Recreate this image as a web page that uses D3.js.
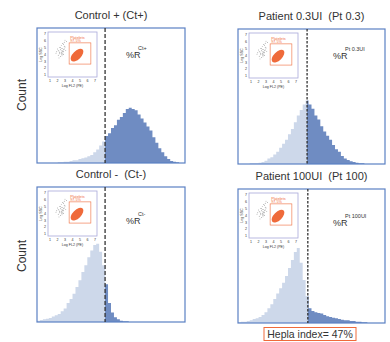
<!DOCTYPE html>
<html>
<head>
<meta charset="utf-8">
<script src="https://cdn.jsdelivr.net/npm/d3@7"></script>
<style>
  body { margin: 0; background: #fff; }
  text { font-family: "Liberation Sans", Arial, sans-serif; fill: #333; white-space: pre; }
</style>
</head>
<body>
<svg id="chart" width="390" height="342"></svg>
<script>
// histogram counts (% of panel height), 50 bins of width 2 over channel 0..100
const ctPlus = [0,0,0,0,0,0,0,0.5,0.5,1, 1,1.5,2,2,3,3.5,4,5,6,8,
  10,13,16,20,22,26,28,32,34,37, 40,41,40,39,36,33,30,27,24,19,
  15,11,8,5,3,1.5,1,0.5,0,0];
const pt03 = [0,0,0,0,0.5,0.5,0.5,1,1.5,2.5, 4,5,7,9,12,15,18,22,26,31,
  36,40,44,47,44,41,36,33,28,24, 21,18,14,11,9,6,4,3,2,1.5,
  1,0.5,0.5,0,0,0,0,0,0,0];
const ctMinus = [1,1.5,2,2.5,3,4,5,6,8,10, 14,17,21,26,31,37,42,48,53,57,
  58,52,42,28,14,7,3.5,2,1,0.5, 0.5,0,0,0,0,0,0,0,0,0,
  0,0,0,0,0,0,0,0,0,0];
const pt100 = [0.5,1,1,1.5,2,3,3.5,4.5,6,8, 11,14,18,22,26,30,35,41,47,53,
  56,45,32,20,11,9,8,7.5,7,6, 5,4.5,4,3.5,3,2.5,2,2,1.5,1.5,
  1,1,0.5,0.5,0,0,0,0,0,0];

const titles = ['Control + (Ct+)', 'Patient 0.3UI  (Pt 0.3)', 'Control -  (Ct-)', 'Patient 100UI  (Pt 100)'];
const superscripts = ['Ct+', 'Pt 0.3UI', 'Ct-', 'Pt 100UI'];
const gates = [46, 47, 46, 47.5];
const series = [ctPlus, pt03, ctMinus, pt100];

// inset scatter (log FL2 vs log SSC)
const insetTicks = [1, 2, 3, 4, 5, 6, 7];
const debrisX = [1.8,2.0,2.1,2.2,2.3,2.3,2.4,2.5,2.5,2.6,2.6,2.7,2.7,2.8,2.8,2.9,2.9,3.0,2.2,2.4,
  2.6,2.8,3.1,1.9,2.5,2.7,2.3,2.9,2.6,2.4,3.2,2.1,2.8,2.5,2.7,3.0];
const debrisY = [4.2,4.8,3.9,4.5,5.0,4.1,4.7,4.3,5.3,4.6,3.8,4.9,4.2,5.5,4.4,4.8,5.8,5.1,3.5,3.7,
  4.0,4.0,4.6,4.4,4.9,5.6,4.3,5.2,4.5,5.0,5.9,4.6,4.7,4.1,4.4,6.1];
const gateBox = [3.55, 6.45, 2.6, 5.7];   // x0, x1, y0, y1
const blob = { cx: 4.6, cy: 3.9, rx: 8, ry: 4.2, angle: -45 };

const boxes = [
  { x: 37, y: 28, w: 148, h: 135 },
  { x: 238, y: 29, w: 147, h: 135 },
  { x: 37, y: 187, w: 148, h: 135 },
  { x: 238, y: 189, w: 147, h: 134 }
];

const light = '#cdd8ea', dark = '#6f8cc2', border = '#5b80c3', orange = '#ef6a3a';

const svg = d3.select('#chart');
const defs = svg.append('defs');

boxes.forEach((b, i) => {
  const g = svg.append('g');
  const x = d3.scaleLinear().domain([0, 100]).range([b.x, b.x + b.w]);
  const y = d3.scaleLinear().domain([0, 100]).range([b.y + b.h, b.y]);

  // title
  g.append('text').attr('x', b.x + b.w / 2).attr('y', b.y - 9)
    .attr('text-anchor', 'middle').attr('font-size', 11).text(titles[i]);

  const bins = series[i].map((v, k) => ({ x0: k * 2, v }));
  bins.push({ x0: 100, v: series[i][series[i].length - 1] });
  const area = d3.area().curve(d3.curveStepAfter)
    .x(d => x(d.x0)).y0(y(0)).y1(d => y(d.v));

  // clip left / right of the gate
  defs.append('clipPath').attr('id', 'cl' + i).append('rect')
    .attr('x', b.x).attr('y', b.y).attr('width', x(gates[i]) - b.x).attr('height', b.h);
  defs.append('clipPath').attr('id', 'cr' + i).append('rect')
    .attr('x', x(gates[i])).attr('y', b.y).attr('width', b.x + b.w - x(gates[i])).attr('height', b.h);

  g.append('path').datum(bins).attr('d', area).attr('fill', light).attr('clip-path', `url(#cl${i})`);
  g.append('path').datum(bins).attr('d', area).attr('fill', dark).attr('clip-path', `url(#cr${i})`);

  g.append('rect').attr('x', b.x).attr('y', b.y).attr('width', b.w).attr('height', b.h)
    .attr('fill', 'none').attr('stroke', border).attr('stroke-width', 1.2);

  // gate line
  g.append('line').attr('x1', x(gates[i])).attr('x2', x(gates[i]))
    .attr('y1', b.y).attr('y2', b.y + b.h)
    .attr('stroke', '#333').attr('stroke-width', 1.3).attr('stroke-dasharray', i % 2 ? '2.5,1.5' : '4,2');

  // %R label
  const lx = i % 2 ? b.x + 95 : b.x + 89;
  const ly = i < 2 ? b.y + 30 : b.y + 37;
  g.append('text').attr('x', lx).attr('y', ly).attr('font-size', 9).text('%R');
  g.append('text').attr('x', lx + 12).attr('y', ly - 8).attr('font-size', 5.5).text(superscripts[i]);

  // inset scatter
  const ix = d3.scaleLinear().domain([1, 7]).range([b.x + 13, b.x + 58]);
  const iy = d3.scaleLinear().domain([1, 7]).range([b.y + 47, b.y + 6]);
  const inset = g.append('g');
  inset.append('rect').attr('x', b.x + 11).attr('y', b.y + 4).attr('width', 49).attr('height', 45)
    .attr('fill', '#fff').attr('stroke', '#a9a9d9').attr('stroke-width', 0.8);
  inset.selectAll('.tx').data(insetTicks).join('text')
    .attr('x', d => ix(d)).attr('y', b.y + 54).attr('text-anchor', 'middle')
    .attr('font-size', 3.6).text(d => d);
  inset.selectAll('.ty').data(insetTicks).join('text')
    .attr('x', b.x + 9).attr('y', d => iy(d) + 1.2).attr('text-anchor', 'end')
    .attr('font-size', 3.6).text(d => d);
  inset.append('text').attr('x', ix(4)).attr('y', b.y + 59).attr('text-anchor', 'middle')
    .attr('font-size', 3.6).text('Log FL2 (PE)');
  inset.append('text').attr('transform', `translate(${b.x + 5},${iy(4)}) rotate(-90)`)
    .attr('text-anchor', 'middle').attr('font-size', 3.6).text('Log SSC');
  inset.selectAll('.dot').data(debrisX).join('circle')
    .attr('cx', d => ix(d)).attr('cy', (d, k) => iy(debrisY[k])).attr('r', 0.45).attr('fill', '#777');
  inset.append('rect').attr('x', ix(gateBox[0])).attr('y', iy(gateBox[3]))
    .attr('width', ix(gateBox[1]) - ix(gateBox[0])).attr('height', iy(gateBox[2]) - iy(gateBox[3]))
    .attr('fill', 'none').attr('stroke', orange).attr('stroke-width', 0.6);
  inset.append('ellipse').attr('cx', ix(blob.cx)).attr('cy', iy(blob.cy))
    .attr('rx', blob.rx).attr('ry', blob.ry)
    .attr('transform', `rotate(${blob.angle},${ix(blob.cx)},${iy(blob.cy)})`)
    .attr('fill', orange);
  inset.append('text').attr('x', ix(gateBox[0]) + 1).attr('y', iy(gateBox[3]) - 4)
    .attr('font-size', 3.8).style('fill', orange).text('Platelets');
  inset.append('text').attr('x', ix(gateBox[0]) + 1).attr('y', iy(gateBox[3]) - 0.5)
    .attr('font-size', 3.8).style('fill', orange).text('97.5%');
});

// y-axis titles
[95, 256].forEach(cy => {
  svg.append('text').attr('transform', `translate(26,${cy}) rotate(-90)`)
    .attr('text-anchor', 'middle').attr('font-size', 12).text('Count');
});

// index box
const hb = svg.append('g');
hb.append('rect').attr('x', 264).attr('y', 327.5).attr('width', 92).attr('height', 13)
  .attr('fill', '#fff').attr('stroke', orange).attr('stroke-width', 1);
hb.append('text').attr('x', 310).attr('y', 338).attr('text-anchor', 'middle')
  .attr('font-size', 10.5).text('Hepla index= 47%');
</script>
</body>
</html>
